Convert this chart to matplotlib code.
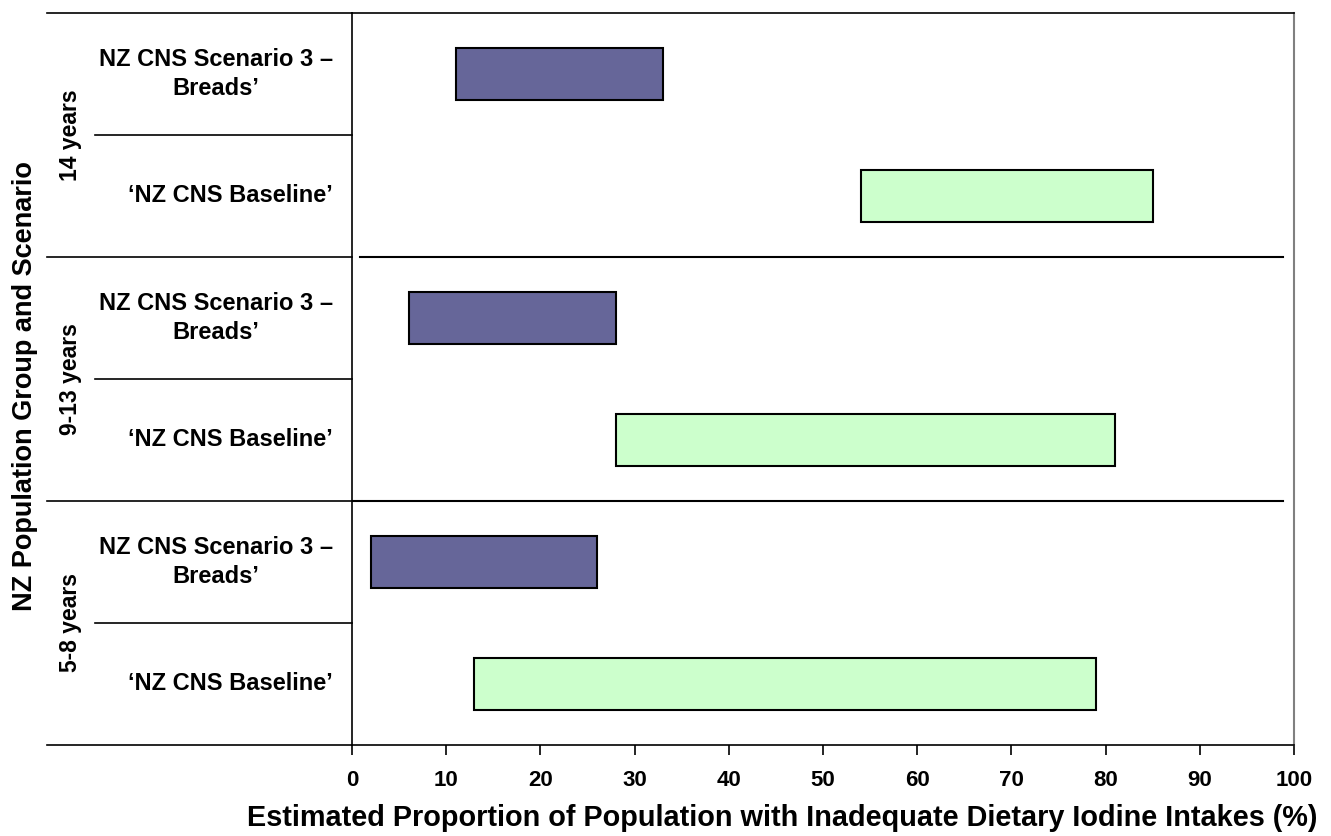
import matplotlib
matplotlib.use("Agg")
import matplotlib.pyplot as plt

plt.rcParams["font.family"] = ["Liberation Sans", "DejaVu Sans"]
plt.rcParams["font.weight"] = "bold"

# Population groups (bottom to top) and scenarios within each group
groups = ["5-8 years", "9-13 years", "14 years"]
baseline_label = "\u2018NZ CNS Baseline\u2019"
scenario_label = "NZ CNS Scenario 3 \u2013\nBreads\u2019"

# Range of estimated proportion with inadequate iodine intake (%)
baseline_low = [13, 28, 54]
baseline_high = [79, 81, 85]
scenario_low = [2, 6, 11]
scenario_high = [26, 28, 33]

xticks = list(range(0, 101, 10))

W, H = 1331, 836
fig = plt.figure(figsize=(W / 100, H / 100), dpi=100)

top_px, bot_px = 13, 745
ax_left, ax_right = 352, 1294
lab_left = 47
b = 1 - bot_px / H
h = (bot_px - top_px) / H

ax = fig.add_axes([ax_left / W, b, (ax_right - ax_left) / W, h])
lab = fig.add_axes([lab_left / W, b, (ax_left - lab_left) / W, h])

bar_h = 0.42
scen_color = "#666699"
base_color = "#CCFFCC"

for i in range(len(groups)):
    y_base = 2 * i + 0.5
    y_scen = 2 * i + 1.5
    ax.barh(y_base, baseline_high[i] - baseline_low[i], left=baseline_low[i],
            height=bar_h, color=base_color, edgecolor="black", linewidth=1.5)
    ax.barh(y_scen, scenario_high[i] - scenario_low[i], left=scenario_low[i],
            height=bar_h, color=scen_color, edgecolor="black", linewidth=1.5)

ax.set_xlim(0, 100)
ax.set_ylim(0, 6)
ax.set_yticks([])
ax.set_xticks(xticks)
ax.set_xticklabels([str(t) for t in xticks], fontsize=16, fontweight="bold")
ax.tick_params(axis="x", direction="out", length=7, width=1.2, pad=11)
for side in ["left", "bottom", "top"]:
    ax.spines[side].set_color("black")
    ax.spines[side].set_linewidth(1.2)
ax.spines["right"].set_color("#808080")
ax.spines["right"].set_linewidth(1.5)

# group separators in the plot area
ax.plot([0.85, 98.8], [4, 4], color="black", lw=1.5)
ax.plot([0, 98.8], [2, 2], color="black", lw=1.5)

# category label panel
lab.set_xlim(lab_left, ax_left)
lab.set_ylim(0, 6)
lab.axis("off")
for y in [0, 2, 4, 6]:
    lab.plot([lab_left, ax_left], [y, y], color="black", lw=1.2, clip_on=False)
for y in [1, 3, 5]:
    lab.plot([95, ax_left], [y, y], color="black", lw=1.2, clip_on=False)

for i, g in enumerate(groups):
    lab.text(333, 2 * i + 0.5, baseline_label, ha="right", va="center",
             fontsize=17, fontweight="bold")
    lab.text(333, 2 * i + 1.5, scenario_label, ha="right", va="center",
             multialignment="center", fontsize=17, fontweight="bold",
             linespacing=1.3)
    lab.text(70, 2 * i + 1, g, rotation=90, ha="center", va="center",
             fontsize=16.5, fontweight="bold")

fig.text(25 / W, 1 - 386 / H, "NZ Population Group and Scenario", rotation=90,
         ha="center", va="center", fontsize=19.5, fontweight="bold")
fig.text(782 / W, 1 - 818 / H,
         "Estimated Proportion of Population with Inadequate Dietary Iodine Intakes (%)",
         ha="center", va="center", fontsize=20.8, fontweight="bold")

fig.savefig("out.png", dpi=100)
